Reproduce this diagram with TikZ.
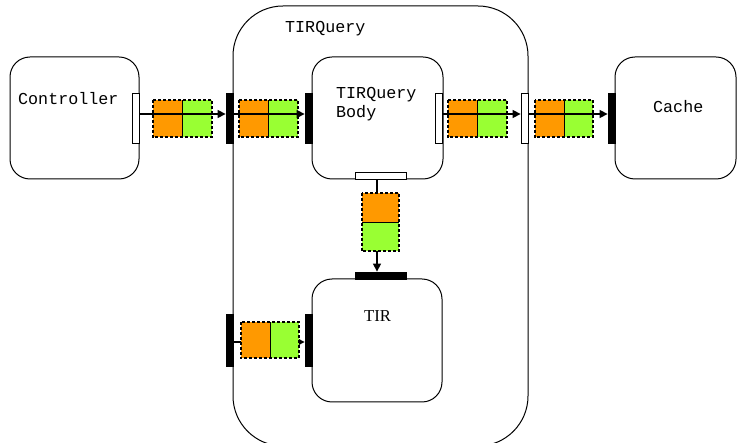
\documentclass[tikz,border=0pt]{standalone}
\usepackage{fontspec}
\newfontfamily\monof{Liberation Mono}
\newfontfamily\seriff{Liberation Serif}
\usetikzlibrary{arrows.meta}
\definecolor{tokorange}{RGB}{255,153,0}
\definecolor{tokgreen}{RGB}{153,255,51}
\begin{document}
\begin{tikzpicture}[x=1pt,y=-1pt,
  comp/.style={draw, line width=1pt, rounded corners=20pt, inner sep=0pt, minimum width=#1},
  comp/.default=130pt,
  vport/.style={draw, line width=0.8pt, fill=#1, inner sep=0pt, minimum width=7pt, minimum height=50pt},
  hport/.style={draw, line width=0.8pt, fill=#1, inner sep=0pt, minimum width=51pt, minimum height=7pt},
  half/.style={inner sep=0pt, fill=#1, minimum width=29.5pt, minimum height=37pt},
  tokborder/.style={line width=1.5pt, dash pattern=on 3pt off 2pt},
  flow/.style={line width=1.4pt, -{Triangle[length=8pt,width=8pt]}},
  monolabel/.style={font=\monof\fontsize{16.7}{19}\selectfont, inner sep=0pt, anchor=base west, align=left},
  seriflabel/.style={font=\seriff\fontsize{16.7}{19}\selectfont, inner sep=0pt, anchor=base west}
]
\useasboundingbox (0,0) rectangle (737,443);
% outer composite
\draw[line width=1pt, rounded corners=50pt] (233,6) rectangle (528,446);
\node[monolabel] (lquery) at (285,33) {TIRQuery};

% components
\node[comp=129pt, minimum height=122pt] (ctrl) at (74.5,118) {};
\node[comp=131pt, minimum height=122pt] (body) at (377.5,118) {};
\node[comp=121pt, minimum height=122pt] (cache) at (675.5,118) {};
\node[comp=130pt, minimum height=123pt] (tir) at (377,340.5) {};

\node[monolabel] (lctrl) at (18,105) {Controller};
\node[monolabel] (lbody) at (336,118) {TIRQuery\\Body};
\node[monolabel] (lcache) at (653,113) {Cache};
\node[seriflabel] (ltir) at (364,322) {TIR};

% ports
\node[vport=white] (cport) at (135.5,118) {};
\node[vport=black] (inport) at (229.5,118) {};
\node[vport=black] (bodyin) at (308.5,118) {};
\node[vport=white] (bodyout) at (438.5,118) {};
\node[vport=white] (outport) at (524.5,118) {};
\node[vport=black] (cachein) at (611.5,118) {};
\node[hport=white] (bodybot) at (380.5,175.5) {};
\node[hport=black] (tirtop) at (380.5,275.5) {};
\node[vport=black, minimum height=52pt] (inport2) at (229.5,340) {};
\node[vport=black, minimum height=52pt] (tirin) at (308.5,340) {};

% tokens on the upper flow (under the arrows)
\node[half=tokorange] (t1o) at (167.75,118.5) {};
\node[half=tokgreen] (t1g) at (197.25,118.5) {};
\node[half=tokorange] (t2o) at (253.75,118.5) {};
\node[half=tokgreen] (t2g) at (283.25,118.5) {};
\node[half=tokorange] (t3o) at (462.75,118.5) {};
\node[half=tokgreen] (t3g) at (492.25,118.5) {};
\node[half=tokorange, minimum width=29pt] (t4o) at (549.5,118.5) {};
\node[half=tokgreen, minimum width=29pt] (t4g) at (578.5,118.5) {};
\foreach \a/\b in {t1o/t1g,t2o/t2g,t3o/t3g,t4o/t4g}{
  \draw[tokborder] (\a.north west) rectangle (\b.south east);
  \draw[line width=1pt] (\a.north east) -- (\a.south east);
}

% upper flow arrows
\draw[flow] ([yshift=4pt]cport.east) -- ([yshift=4pt]inport.west);
\draw[flow] ([yshift=4pt]inport.east) -- ([yshift=4pt]bodyin.west);
\draw[flow] ([yshift=4pt]bodyout.east) -- ([yshift=4pt]outport.west);
\draw[flow] ([yshift=4pt]outport.east) -- ([yshift=4pt]cachein.west);

% vertical and lower flows (tokens on top)
\draw[flow] ([xshift=-3.5pt]bodybot.south) -- ([xshift=-3.5pt]tirtop.north);
\draw[flow] ([yshift=-2pt]inport2.east) -- ([yshift=-2pt]tirin.west);

\node[half=tokorange, minimum width=37pt, minimum height=29pt] (t5o) at (380.5,207.5) {};
\node[half=tokgreen, minimum width=37pt, minimum height=29pt] (t5g) at (380.5,236.5) {};
\draw[tokborder] (t5o.north west) rectangle (t5g.south east);
\draw[line width=1pt] (t5o.south west) -- (t5o.south east);

\node[half=tokorange, minimum width=29pt, minimum height=36pt] (t6o) at (255.5,340) {};
\node[half=tokgreen, minimum width=29pt, minimum height=36pt] (t6g) at (284.5,340) {};
\draw[tokborder] (t6o.north west) rectangle (t6g.south east);
\draw[line width=1pt] (t6o.north east) -- (t6o.south east);
\end{tikzpicture}
\end{document}
